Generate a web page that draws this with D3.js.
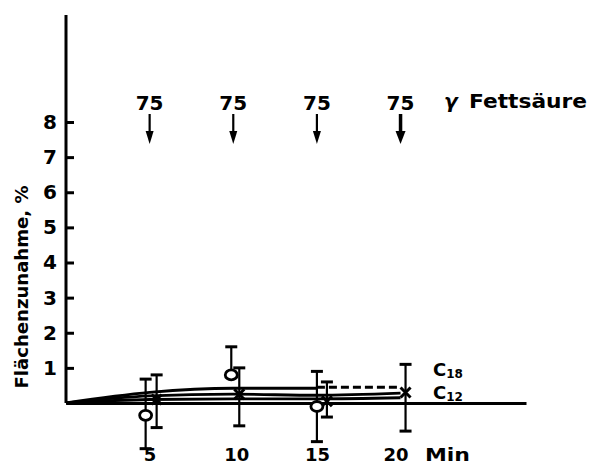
<!DOCTYPE html>
<html>
<head>
<meta charset="utf-8">
<script src="https://cdn.jsdelivr.net/npm/d3@7"></script>
<style>
  body { margin: 0; background: #fff; }
  svg { font-family: "DejaVu Sans", sans-serif; font-weight: bold; }
</style>
</head>
<body>
<div id="chart"></div>
<script>
// data
var minutes = [5, 10, 15, 20];
var doseLabels = ['75', '75', '75', '75'];
var yTicks = [1, 2, 3, 4, 5, 6, 7, 8];

// curves (time, %)
var c18Line = [[0, 0], [5, 0.3], [10, 0.42], [15, 0.42]];
var c18Dash = [[15, 0.45], [20, 0.45]];
var c12Line = [[0, 0], [5, 0.2], [10, 0.25], [15, 0.22], [20, 0.28]];
var c12Low = [[0, 0], [5, 0.1], [10, 0.12], [15, 0.12], [20, 0.15]];

// circles (C18) with error bars
var circlePts = [
  {t: 5, v: -0.35, lo: -1.3, hi: 0.68, dx: -4},
  {t: 10, v: 0.8, lo: 0.8, hi: 1.6, dx: -2},
  {t: 15, v: -0.1, lo: -1.1, hi: 0.9, dx: 0}
];
// crosses (C12) with error bars
var crossPts = [
  {t: 5, v: 0.1, lo: -0.7, hi: 0.8, dx: 7},
  {t: 10, v: 0.25, lo: -0.65, hi: 1.0, dx: 6},
  {t: 15, v: 0.05, lo: -0.4, hi: 0.6, dx: 10},
  {t: 20, v: 0.3, lo: -0.8, hi: 1.1, dx: 5}
];

var svgW = 594, svgH = 469;
var svg = d3.select('#chart').append('svg')
  .attr('width', svgW)
  .attr('height', svgH);

var x = d3.scaleLinear().domain([0, 27.5]).range([66, 526]);
var y = d3.scaleLinear().domain([0, 8]).range([403, 122]);

// y axis line (extends above 8)
svg.append('line')
  .attr('x1', x(0)).attr('x2', x(0))
  .attr('y1', 15).attr('y2', y(0))
  .attr('stroke', '#000').attr('stroke-width', 3);

var yAxis = svg.append('g')
  .attr('transform', `translate(${x(0)},0)`)
  .call(d3.axisLeft(y).tickValues(yTicks).tickSize(-8).tickPadding(9).tickFormat(d3.format('d')));
yAxis.select('.domain').remove();
yAxis.selectAll('line').attr('stroke-width', 3);
yAxis.selectAll('text')
  .attr('font-size', 20)
  .attr('font-weight', 'bold')
  .attr('font-family', 'DejaVu Sans, sans-serif')
  .attr('fill', '#000');

// x axis baseline
var xAxis = svg.append('g')
  .attr('transform', `translate(0,${y(0)})`)
  .call(d3.axisBottom(x).tickValues(minutes).tickSize(0).tickPadding(45).tickFormat(d3.format('d')));
xAxis.select('.domain').attr('stroke-width', 3);
xAxis.selectAll('text')
  .attr('font-size', 18)
  .attr('font-weight', 'bold')
  .attr('font-family', 'DejaVu Sans, sans-serif')
  .attr('fill', '#000')
  .attr('dx', d => d === 20 ? -5 : (d === 10 ? 3 : 0));
svg.append('text')
  .attr('x', 425).attr('y', y(0) + 58)
  .attr('font-size', 18)
  .attr('textLength', 45).attr('lengthAdjust', 'spacingAndGlyphs')
  .text('Min');

// y label
svg.append('text')
  .attr('transform', `translate(28,287) rotate(-90)`)
  .attr('text-anchor', 'middle')
  .attr('font-size', 18)
  .attr('textLength', 203).attr('lengthAdjust', 'spacingAndGlyphs')
  .text('Flächenzunahme, %');

// arrows and doses
minutes.forEach(function(t, i) {
  var ax = x(t);
  var w = i === 3 ? 3.5 : 2.2;
  var hw = i === 3 ? 5 : 4;
  svg.append('text')
    .attr('x', ax).attr('y', 110)
    .attr('text-anchor', 'middle')
    .attr('font-size', 20)
    .text(doseLabels[i]);
  svg.append('line')
    .attr('x1', ax).attr('x2', ax)
    .attr('y1', 114).attr('y2', 134)
    .attr('stroke', '#000')
    .attr('stroke-width', w);
  svg.append('path')
    .attr('d', `M${ax - hw},131L${ax + hw},131L${ax},144Z`)
    .attr('fill', '#000');
});
svg.append('text')
  .attr('x', 444).attr('y', 108)
  .attr('font-size', 20)
  .attr('font-style', 'italic')
  .text('γ');
svg.append('text')
  .attr('x', 469).attr('y', 108)
  .attr('font-size', 19)
  .attr('textLength', 118).attr('lengthAdjust', 'spacingAndGlyphs')
  .text('Fettsäure');

// curves
var line = d3.line()
  .x(d => x(d[0]))
  .y(d => y(d[1]))
  .curve(d3.curveMonotoneX);

[c18Line, c12Line, c12Low].forEach(function(pts) {
  svg.append('path')
    .attr('d', line(pts))
    .attr('fill', 'none')
    .attr('stroke', '#000')
    .attr('stroke-width', 2.8);
});
svg.append('path')
  .attr('d', line(c18Dash))
  .attr('fill', 'none')
  .attr('stroke', '#000')
  .attr('stroke-width', 3)
  .attr('stroke-dasharray', '8,4');

// error bars
function errorBar(d) {
  var cx = x(d.t) + d.dx;
  svg.append('line')
    .attr('x1', cx).attr('x2', cx)
    .attr('y1', y(d.hi)).attr('y2', y(d.lo))
    .attr('stroke', '#000').attr('stroke-width', 2.2);
  [d.hi, d.lo].forEach(function(v) {
    if (v === d.v) return;
    svg.append('line')
      .attr('x1', cx - 6).attr('x2', cx + 6)
      .attr('y1', y(v)).attr('y2', y(v))
      .attr('stroke', '#000').attr('stroke-width', 3);
  });
}
circlePts.forEach(errorBar);
crossPts.forEach(errorBar);

// markers
crossPts.forEach(function(d) {
  var cx = x(d.t) + d.dx, cy = y(d.v);
  svg.append('path')
    .attr('d', `M${cx - 5},${cy - 5}L${cx + 5},${cy + 5}M${cx + 5},${cy - 5}L${cx - 5},${cy + 5}`)
    .attr('stroke', '#000').attr('stroke-width', 3);
});
svg.selectAll('ellipse.pt')
  .data(circlePts)
  .enter()
  .append('ellipse')
  .attr('class', 'pt')
  .attr('cx', d => x(d.t) + d.dx)
  .attr('cy', d => y(d.v))
  .attr('rx', 6).attr('ry', 5)
  .attr('fill', '#fff')
  .attr('stroke', '#000')
  .attr('stroke-width', 2.8);

// series labels
function seriesLabel(name, sub, yy) {
  var t = svg.append('text').attr('x', 433).attr('y', yy).attr('font-size', 18);
  t.append('tspan').text(name);
  t.append('tspan').attr('font-size', 12).attr('dy', 2).text(sub);
}
seriesLabel('C', '18', 376);
seriesLabel('C', '12', 399);
</script>
</body>
</html>
